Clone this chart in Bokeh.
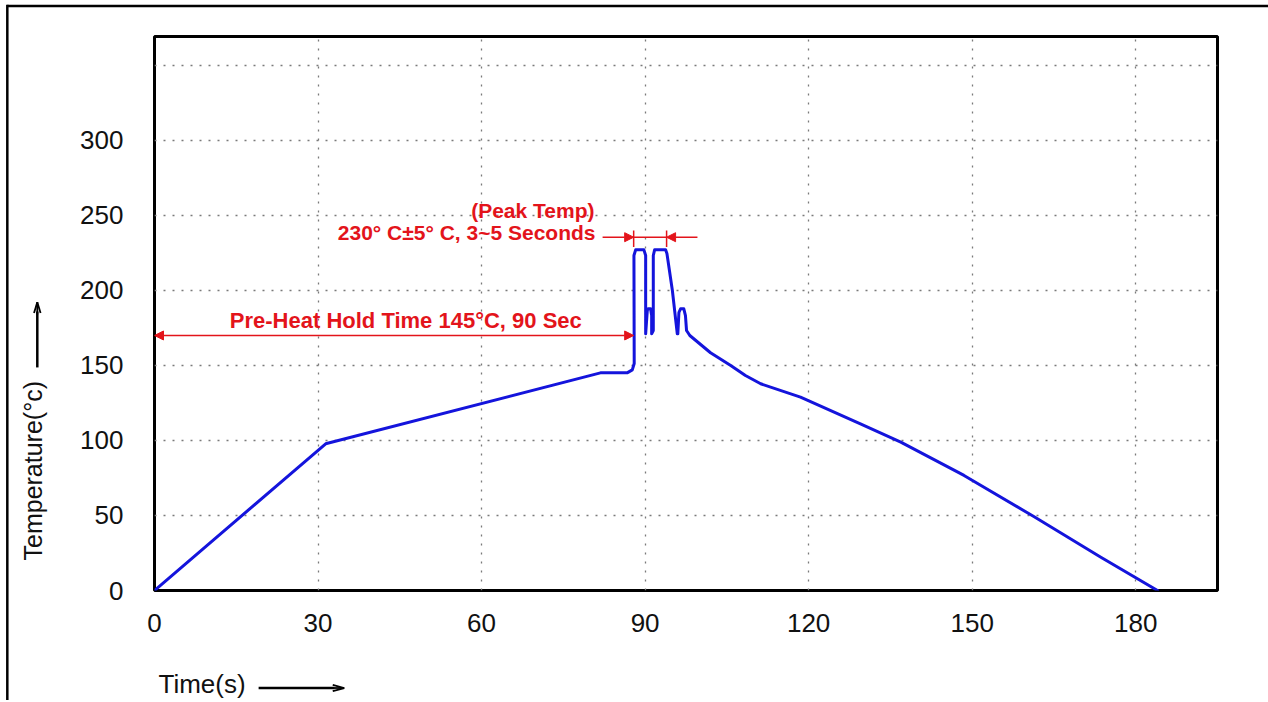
import math
from bokeh.plotting import figure
from bokeh.models import Label, Arrow, NormalHead, Range1d, FixedTicker
from bokeh.core.properties import value
from bokeh.embed import file_html
from bokeh.resources import INLINE

# ---- data (time in s, temperature in deg C) ----
time_s = [0, 31.4, 81.8, 86.7, 87.65, 88.0, 87.95, 88.26, 89.78, 90.1, 90.1,
          90.4, 90.55, 91.0, 91.2, 91.2, 91.5, 91.5, 91.74, 93.76, 94.0,
          95.0, 95.9, 96.0, 96.2, 96.5, 97.1, 97.4, 97.6, 98.2, 102.0,
          105.7, 108.4, 111.2, 118.5, 129.5, 136.9, 148.5, 161.3, 173.6, 184.0]
temp_c = [0, 97.8, 145.1, 145.1, 147.1, 151.3, 223.3, 227.1, 227.1, 223.3, 171.1,
          186.7, 187.8, 187.8, 183.3, 171.1, 173.3, 223.3, 227.1, 227.1, 224.7,
          200.0, 171.1, 171.1, 185.3, 187.8, 187.8, 183.3, 173.3, 170.0, 158.5,
          150.0, 143.3, 137.8, 128.9, 111.1, 98.9, 76.7, 49.3, 22.2, 0]

x_ticks = [0, 30, 60, 90, 120, 150, 180]
y_ticks = [0, 50, 100, 150, 200, 250, 300, 350]
y_tick_overrides = {350: ""}

x_title = "Time(s)"
y_title = "Temperature(°c)"
preheat_text = "Pre-Heat Hold Time 145°C, 90 Sec"
peak_title = "(Peak Temp)"
peak_text = "230° C±5° C, 3~5 Seconds"

# annotation anchors (data units)
preheat_y = 170
preheat_end = 87.9
peak_y = 235.5
peak_left = 87.9
peak_right = 93.94

FONT = "Liberation Sans"
RED = "#e3141b"
BLUE = "#1414dc"
INK = "#111111"

p = figure(width=1268, height=700, title=None,
           x_range=Range1d(0, 195), y_range=Range1d(0, 369.3),
           output_backend="svg", toolbar_location=None,
           min_border_left=154, min_border_right=51,
           min_border_top=36, min_border_bottom=110)

p.background_fill_color = "white"
p.border_fill_color = "white"
p.outline_line_color = "black"
p.outline_line_width = 3

p.xaxis.ticker = FixedTicker(ticks=x_ticks)
p.yaxis.ticker = FixedTicker(ticks=y_ticks)
p.yaxis.major_label_overrides = y_tick_overrides
for ax in (p.xaxis, p.yaxis):
    ax.axis_line_color = None
    ax.major_tick_line_color = None
    ax.minor_tick_line_color = None
    ax.major_tick_out = 0
    ax.major_tick_in = 0
    ax.major_label_text_font = FONT
    ax.major_label_text_font_size = "26px"
    ax.major_label_text_color = INK
p.xaxis.major_label_standoff = 23
p.yaxis.major_label_standoff = 31

for g in (p.xgrid, p.ygrid):
    g.grid_line_color = "#7a7a7a"
    g.grid_line_dash = "2 7"
    g.grid_line_width = 1.3

p.line(time_s, temp_c, line_width=3, color=BLUE, line_join="round", line_cap="round")

# pre-heat double arrow
p.add_layout(Arrow(start=NormalHead(size=9, fill_color=RED, line_color=RED, line_width=1),
                   end=NormalHead(size=9, fill_color=RED, line_color=RED, line_width=1),
                   x_start=0, y_start=preheat_y, x_end=preheat_end, y_end=preheat_y,
                   line_color=RED, line_width=1.5))
p.add_layout(Label(x=46.1, y=180, text=preheat_text, text_align="center",
                   text_baseline="middle", text_font=FONT, text_font_style="bold",
                   text_font_size="22px", text_color=RED))

# peak markers
p.segment(x0=[peak_left, peak_right, peak_left], y0=[228.9, 228.9, peak_y],
          x1=[peak_left, peak_right, peak_right], y1=[240, 240, peak_y],
          line_color=RED, line_width=1.5)
p.add_layout(Arrow(end=NormalHead(size=9, fill_color=RED, line_color=RED, line_width=1),
                   x_start=82.2, y_start=peak_y, x_end=peak_left, y_end=peak_y,
                   line_color=RED, line_width=1.5))
p.add_layout(Arrow(end=NormalHead(size=9, fill_color=RED, line_color=RED, line_width=1),
                   x_start=99.6, y_start=peak_y, x_end=peak_right, y_end=peak_y,
                   line_color=RED, line_width=1.5))
p.add_layout(Label(x=69.4, y=253.3, text=peak_title, text_align="center",
                   text_baseline="middle", text_font=FONT, text_font_style="bold",
                   text_font_size="21px", text_color=RED))
p.add_layout(Label(x=80.9, y=238.7, text=peak_text, text_align="right",
                   text_baseline="middle", text_font=FONT, text_font_style="bold",
                   text_font_size="21px", text_color=RED))

# ---- things outside the plot frame: overlay-level glyphs (not clipped) ----
# axis titles
p.text(x=[0.73], y=[-62.3], text=[x_title], level="overlay",
       text_align="left", text_baseline="middle", text_font=value(FONT),
       text_font_size=value("26px"), text_color=INK)
p.text(x=[-22.2], y=[20], text=[y_title], angle=math.pi / 2, level="overlay",
       text_align="left", text_baseline="middle", text_font=value(FONT),
       text_font_size=value("25px"), text_color=INK)
# title arrows: shafts
p.segment(x0=[19.1, -21.5], y0=[-65.0, 148.7], x1=[33.0, -21.5], y1=[-65.0, 186.0],
          line_color="black", line_width=2.5, level="overlay")
# title arrows: narrow heads drawn as converging strokes
p.segment(x0=[32.7, 32.7, 32.5, -22.1, -20.9, -21.5],
          y0=[-62.9, -67.1, -65.0, 185.0, 185.0, 184.0],
          x1=[34.8, 34.8, 34.8, -21.5, -21.5, -21.5],
          y1=[-65.0, -65.0, -65.0, 192.2, 192.2, 192.2],
          line_color="black", line_width=1.8, level="overlay")
# outer page frame (top and left edges)
p.segment(x0=[-27.0, -27.0], y0=[389.7, 390.5], x1=[207.0, -27.0], y1=[389.7, -80.0],
          line_color="black", line_width=2.5, level="overlay")

open("out.html", "w").write(file_html(p, INLINE))
